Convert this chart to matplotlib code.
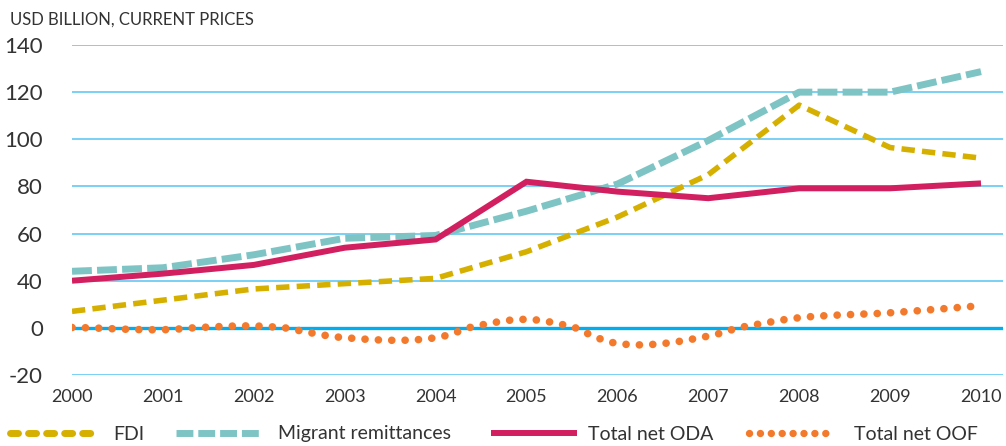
import numpy as np
import matplotlib
matplotlib.use("Agg")
import matplotlib.pyplot as plt
from matplotlib.lines import Line2D
from matplotlib import font_manager

years = [2000, 2001, 2002, 2003, 2004, 2005, 2006, 2007, 2008, 2009, 2010]
fdi = [14, 23.5, 33, 37.5, 41, 52.3, 67, 85, 114.5, 96.5, 92]
remittances = [44, 45.5, 51, 58, 59.2, 69.5, 81, 99.5, 120, 120, 128.7]
oda = [40, 43, 46.7, 54, 57.5, 82, 77.8, 75, 79.2, 79.2, 81.3]
oof = [0.3, -0.8, 1.6, -4.2, -4.2, 7.2, -6.6, -3.5, 8.6, 12.8, 18.8]
ytick_vals = [-20, 0, 40, 60, 80, 100, 120, 140]
ytick_labels = ["-20", "0", "40", "60", "80", "100", "120", "140"]
legend_labels = ["FDI", "Migrant remittances", "Total net ODA", "Total net OOF"]
title = "USD BILLION, CURRENT PRICES"

C_FDI = "#D6B000"
C_REM = "#7EC4C5"
C_ODA = "#D21F5F"
C_OOF = "#F37A2C"
C_GRID = "#62C8F2"
C_ZERO = "#00AEEF"
C_TEXT = "#333333"

avail = {f.name for f in font_manager.fontManager.ttflist}
main_font = next((f for f in ["Liberation Sans Narrow", "Lato", "Open Sans"] if f in avail),
                 "DejaVu Sans")
plt.rcParams["font.family"] = [main_font, "DejaVu Sans"]

W, H = 1006, 446


def fwd(y):
    y = np.asarray(y, float)
    return np.where(y > 40, y - 20, np.where(y > 0, y / 2.0, y))


def inv(p):
    p = np.asarray(p, float)
    return np.where(p > 20, p + 20, np.where(p > 0, p * 2.0, p))


def catmull(x, y, n=20):
    x = np.asarray(x, float)
    y = np.asarray(y, float)
    px = np.concatenate([[2 * x[0] - x[1]], x, [2 * x[-1] - x[-2]]])
    py = np.concatenate([[2 * y[0] - y[1]], y, [2 * y[-1] - y[-2]]])
    xs, ys = [], []
    for i in range(1, len(px) - 2):
        t = np.linspace(0, 1, n, endpoint=False)
        for arr, out in ((px, xs), (py, ys)):
            p0, p1, p2, p3 = arr[i - 1], arr[i], arr[i + 1], arr[i + 2]
            out.extend(0.5 * ((2 * p1) + (-p0 + p2) * t
                              + (2 * p0 - 5 * p1 + 4 * p2 - p3) * t ** 2
                              + (-p0 + 3 * p1 - 3 * p2 + p3) * t ** 3))
    xs.append(x[-1])
    ys.append(y[-1])
    return np.array(xs), np.array(ys)


fig = plt.figure(figsize=(W / 100, H / 100), dpi=100)
ax = fig.add_axes([72 / W, 1 - 375 / H, (1003 - 72) / W, (375 - 45) / H])
ax.set_yscale("function", functions=(fwd, inv))
px_per_year = (981 - 72) / 10
ax.set_xlim(2000, 2010 + (1003 - 981) / px_per_year)
ax.set_ylim(-20, 140)

for v in ytick_vals:
    if v == 0:
        ax.axhline(v, color=C_ZERO, lw=2.4, zorder=1)
    else:
        ax.axhline(v, color=C_GRID, lw=1.2, zorder=1)

# styles
st_fdi = dict(color=C_FDI, lw=4.0, dashes=(2.4, 1.3), dash_capstyle="butt")
st_rem = dict(color=C_REM, lw=5.0, dashes=(2.86, 0.75), dash_capstyle="butt")
st_oda = dict(color=C_ODA, lw=4.3, solid_capstyle="butt", solid_joinstyle="miter")
st_oof = dict(color=C_OOF, lw=5.5, dashes=(0.01, 1.74), dash_capstyle="round")

ax.plot(years, fdi, zorder=3, **st_fdi)
ax.plot(years, remittances, zorder=4, **st_rem)
ax.plot(years, oda, zorder=5, **st_oda)
sx, sy = catmull(years, oof)
ax.plot(sx, sy, zorder=6, **st_oof)

for s in ax.spines.values():
    s.set_visible(False)
ax.set_yticks(ytick_vals)
ax.set_yticklabels(ytick_labels)
ax.set_xticks(years)
ax.set_xticklabels([str(y) for y in years])
ax.yaxis.set_minor_locator(matplotlib.ticker.NullLocator())
ax.tick_params(axis="y", length=0, pad=21, labelsize=16, labelcolor=C_TEXT)
ax.tick_params(axis="x", length=0, pad=10, labelsize=13, labelcolor=C_TEXT)

fig.text(10 / W, 1 - 25 / H, title, fontsize=12, color=C_TEXT,
         va="baseline", ha="left")

# manual legend (pixel positions)
leg_y = 1 - 432.5 / H
leg_items = [
    (10, 100, 113, dict(color=C_FDI, lw=5.0, dashes=(1.15, 1.45), dash_capstyle="round"), legend_labels[0]),
    (176, 262, 278, dict(color=C_REM, lw=5.0, dashes=(2.43, 0.71), dash_capstyle="butt"), legend_labels[1]),
    (491, 577, 588, dict(color=C_ODA, lw=4.3, solid_capstyle="butt"), legend_labels[2]),
    (749, 834, 854, dict(color=C_OOF, lw=5.3, dashes=(0.01, 1.47), dash_capstyle="round"), legend_labels[3]),
]
for x0, x1, xt, style, lab in leg_items:
    fig.add_artist(Line2D([x0 / W, x1 / W], [leg_y, leg_y], transform=fig.transFigure, **style))
    fig.text(xt / W, 1 - 439.5 / H, lab, fontsize=14, color=C_TEXT, va="baseline", ha="left")

fig.savefig("out.png", dpi=100)
